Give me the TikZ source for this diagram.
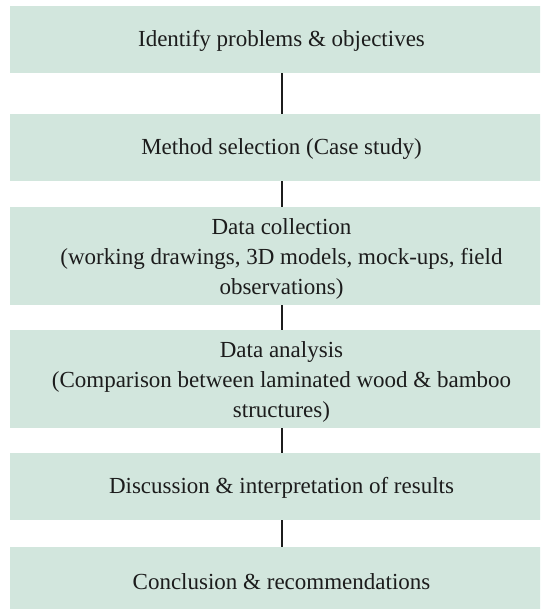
\documentclass[tikz,border=0pt]{standalone}
\usepackage{fontspec}
\setmainfont{Liberation Serif}
\definecolor{boxfill}{RGB}{210,230,221}
\definecolor{ink}{RGB}{28,28,28}
\begin{document}
\begin{tikzpicture}[x=1pt,y=-1pt,
  stage/.style={rectangle, fill=boxfill, draw=none, minimum width=543pt, inner sep=0pt, anchor=north},
  label text/.style={align=center, inner sep=0pt, font=\fontsize{23}{30}\selectfont, text=ink},
  link/.style={line width=2pt, draw=ink}]
\useasboundingbox (0,0) rectangle (540,609);
\clip (0,0) rectangle (540,609);
\node[stage, minimum height=67pt] (b1) at (281.5,6) {};
\node[stage, minimum height=67pt] (b2) at (281.5,114) {};
\node[stage, minimum height=98pt] (b3) at (281.5,207) {};
\node[stage, minimum height=98pt] (b4) at (281.5,330) {};
\node[stage, minimum height=67pt] (b5) at (281.5,453) {};
\node[stage, minimum height=67pt] (b6) at (281.5,547) {};
\node[label text, yshift=-1pt] (t1) at (b1.center) {Identify problems \& objectives};
\node[label text, yshift=-1pt] (t2) at (b2.center) {Method selection (Case study)};
\node[label text, yshift=-3pt] (t3) at (b3.center) {Data collection\\(working drawings, 3D models, mock-ups, field\\observations)};
\node[label text, yshift=-3pt] (t4) at (b4.center) {Data analysis\\(Comparison between laminated wood \& bamboo\\structures)};
\node[label text, yshift=-1pt] (t5) at (b5.center) {Discussion \& interpretation of results};
\node[label text, yshift=-1pt] (t6) at (b6.center) {Conclusion \& recommendations};
\draw[link] (b1.south) -- (b2.north);
\draw[link] (b2.south) -- (b3.north);
\draw[link] (b3.south) -- (b4.north);
\draw[link] (b4.south) -- (b5.north);
\draw[link] (b5.south) -- (b6.north);
\end{tikzpicture}
\end{document}
